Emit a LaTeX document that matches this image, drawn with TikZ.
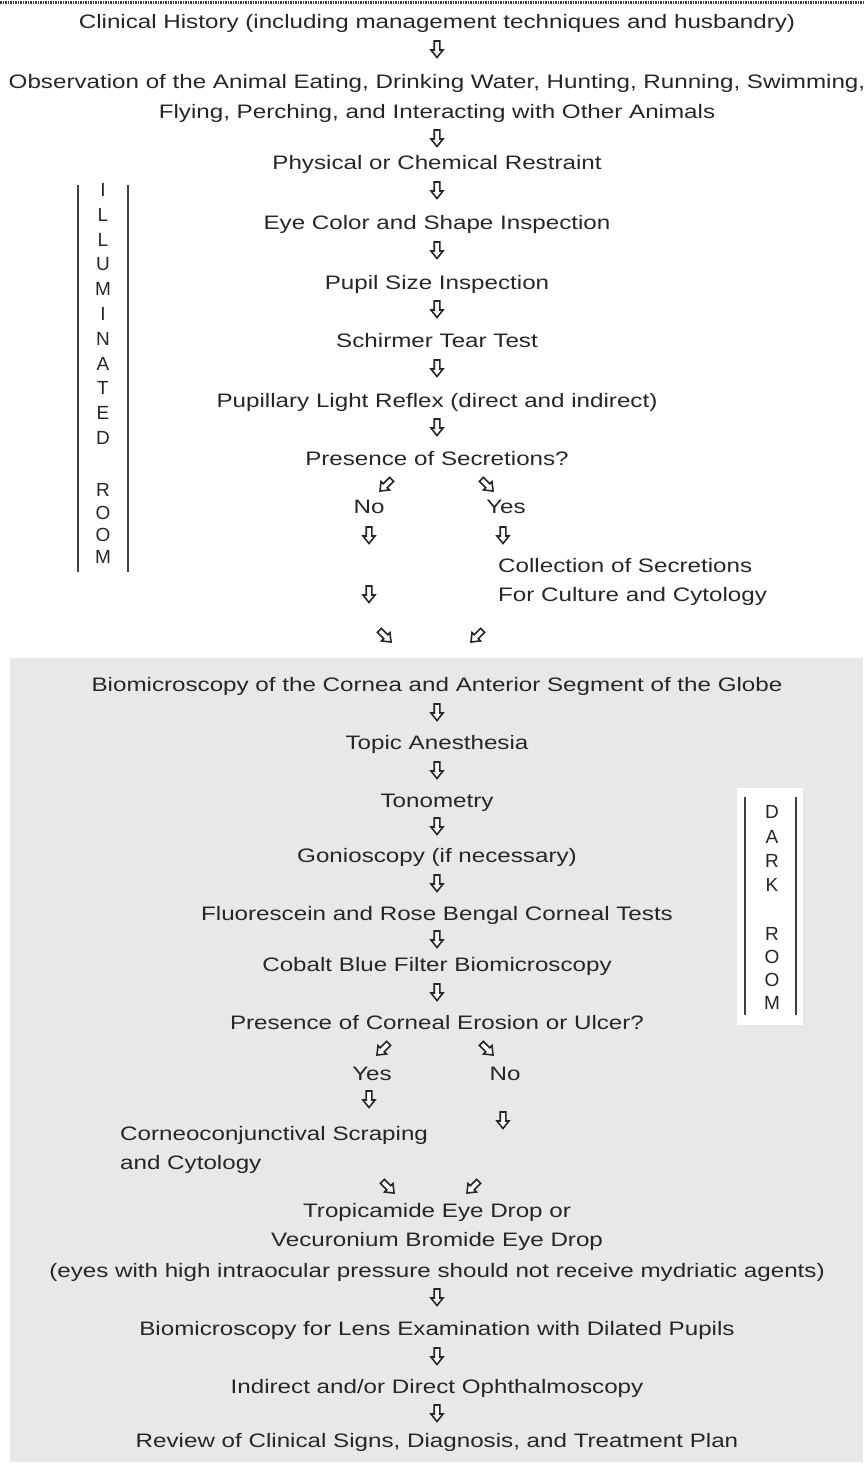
\documentclass[tikz,border=0pt]{standalone}
\usepackage{fontspec}
\setmainfont{Liberation Sans}[FakeStretch=1.24]
\newfontfamily\lblfont{Liberation Sans}
\usetikzlibrary{calc}
\tikzset{
  txt/.style={inner sep=0pt, anchor=base, text=black!85, font=\fontsize{19.5}{24}\selectfont},
  ltxt/.style={txt, anchor=base west},
  vlbl/.style={inner sep=0pt, text=black!85, font=\lblfont\fontsize{19}{22}\selectfont},
  roomline/.style={line width=1.8pt, draw=black!75},
  arrowline/.style={line width=1.6pt, draw=black!85, fill=white, line join=miter},
  harrow/.pic={\draw[arrowline] (-2.8,-8) -- (2.8,-8) -- (2.8,1) -- (6,1) -- (0,8.5) -- (-6,1) -- (-2.8,1) -- cycle;},
  dn/.style={},
  dl/.style={rotate=-45},
  dr/.style={rotate=45}
}
\begin{document}
\begin{tikzpicture}[x=1pt,y=-1pt]
\useasboundingbox (0,0) rectangle (863,1466);
% backgrounds
\fill[black!9] (10,658) rectangle (863,1462);
\fill[white] (737,788) rectangle (803,1025);
\coordinate (tl) at (0,3);
\coordinate (tr) at (863,3);
\draw[line width=3pt, black!75, dash pattern=on 1.5pt off 1pt] (tl) -- (tr);

% room labels
\draw[roomline] (78,185) -- (78,572);
\draw[roomline] (128,185) -- (128,572);
\foreach \l/\y [count=\i] in {I/190,L/215,L/240,U/264,M/289,I/314,N/339,A/364,T/388,E/413,D/438,R/490,O/513,O/535,M/557}
  \node[vlbl] (il\i) at (103,\y) {\l};
\draw[roomline] (745,797) -- (745,1015);
\draw[roomline] (796,797) -- (796,1015);
\foreach \l/\y [count=\i] in {D/812,A/837,R/861,K/885,R/934,O/957,O/980,M/1003}
  \node[vlbl] (dk\i) at (772,\y) {\l};

% illuminated part
\node[txt] (clin) at (437,29) {Clinical History (including management techniques and husbandry)};
\node[txt] (obs1) at (437,89) {Observation of the Animal Eating, Drinking Water, Hunting, Running, Swimming,};
\node[txt] (obs2) at (437,119) {Flying, Perching, and Interacting with Other Animals};
\node[txt] (restr) at (437,170) {Physical or Chemical Restraint};
\node[txt] (eye) at (437,229) {Eye Color and Shape Inspection};
\node[txt] (pupil) at (437,289) {Pupil Size Inspection};
\node[txt] (schir) at (437,347) {Schirmer Tear Test};
\node[txt] (plr) at (437,407) {Pupillary Light Reflex (direct and indirect)};
\node[txt] (secr) at (437,465) {Presence of Secretions?};
\node[txt] (no1) at (369,513) {No};
\node[txt] (yes1) at (506,513) {Yes};
\node[ltxt] (coll1) at (498,572) {Collection of Secretions};
\node[ltxt] (coll2) at (498,601) {For Culture and Cytology};

% dark part
\node[txt] (bio1) at (437,691) {Biomicroscopy of the Cornea and Anterior Segment of the Globe};
\node[txt] (topic) at (437,749) {Topic Anesthesia};
\node[txt] (tono) at (437,807) {Tonometry};
\node[txt] (gonio) at (437,862) {Gonioscopy (if necessary)};
\node[txt] (fluor) at (437,920) {Fluorescein and Rose Bengal Corneal Tests};
\node[txt] (cobalt) at (437,971) {Cobalt Blue Filter Biomicroscopy};
\node[txt] (eros) at (437,1029) {Presence of Corneal Erosion or Ulcer?};
\node[txt] (yes2) at (372,1080) {Yes};
\node[txt] (no2) at (505,1080) {No};
\node[ltxt] (scr1) at (120,1140) {Corneoconjunctival Scraping};
\node[ltxt] (scr2) at (120,1169) {and Cytology};
\node[txt] (trop1) at (437,1217) {Tropicamide Eye Drop or};
\node[txt] (trop2) at (437,1246) {Vecuronium Bromide Eye Drop};
\node[txt] (trop3) at (437,1277) {(eyes with high intraocular pressure should not receive mydriatic agents)};
\node[txt] (lens) at (437,1335) {Biomicroscopy for Lens Examination with Dilated Pupils};
\node[txt] (oph) at (437,1393) {Indirect and/or Direct Ophthalmoscopy};
\node[txt] (rev) at (437,1447) {Review of Clinical Signs, Diagnosis, and Treatment Plan};

% arrows (hollow arrow glyphs)
\foreach \y in {49,138,190,250,309,368,427,712,770,826,883,939,992,1297,1356,1413}
  \pic[dn] at (437,\y) {harrow};
\pic[dl] at (386,485) {harrow};
\pic[dr] at (487,485) {harrow};
\pic[dn] at (369,535) {harrow};
\pic[dn] at (503,535) {harrow};
\pic[dn] at (369,594) {harrow};
\pic[dr] at (385,636) {harrow};
\pic[dl] at (477,636) {harrow};
\pic[dl] at (383,1049) {harrow};
\pic[dr] at (487,1049) {harrow};
\pic[dn] at (369,1099) {harrow};
\pic[dn] at (503,1120) {harrow};
\pic[dr] at (388,1187) {harrow};
\pic[dl] at (473,1187) {harrow};
\end{tikzpicture}
\end{document}
